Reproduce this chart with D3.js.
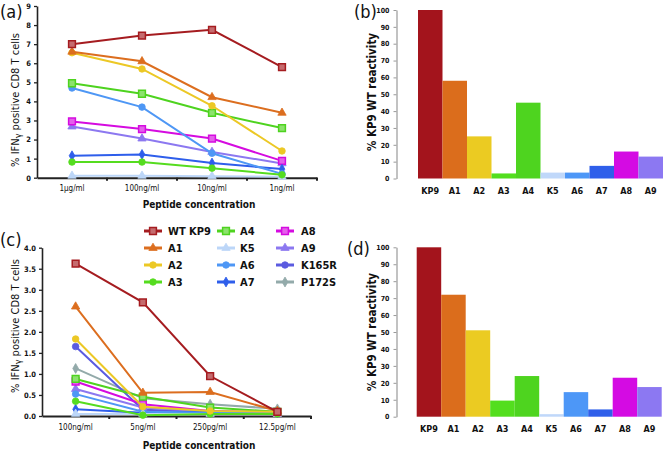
<!DOCTYPE html>
<html><head><meta charset="utf-8">
<script src="https://cdn.jsdelivr.net/npm/d3@7"></script>
<style>
html,body{margin:0;padding:0;background:#fff;}
svg{display:block;}
text{font-family:"DejaVu Sans Condensed","DejaVu Sans",sans-serif;fill:#111;}
</style></head>
<body>
<svg id="chart" width="664" height="451"></svg>
<script>
// ---- data ----
const concA = ["1\u00b5g/ml","100ng/ml","10ng/ml","1ng/ml"];
const concC = ["100ng/ml","5ng/ml","250pg/ml","12.5pg/ml"];
const seriesNames = ["WT KP9","A1","A2","A3","A4","K5","A6","A7","A8","A9","K165R","P172S"];
const seriesColors = ["#A51C20","#DC6E1F","#ECC825","#55DC1F","#4ED31F","#BCD6F8","#4E97F5","#2E5EEB","#D50BE0","#8C78F0","#5B5BE0","#93AAAA"];
const seriesShapes = ["square","triangle","circle","circle","square","triangle","circle","diamond","square","triangle","circle","diamond"];
// panel (a) values (% IFNg+ CD8 T cells)
const aWT   = [7.0, 7.45, 7.75, 5.8];
const aA1   = [6.6, 6.1, 4.22, 3.4];
const aA2   = [6.55, 5.7, 3.77, 1.4];
const aA3   = [0.82, 0.82, 0.5, 0.15];
const aA4   = [4.95, 4.4, 3.4, 2.6];
const aK5   = [0.1, 0.1, 0.08, 0.05];
const aA6   = [4.7, 3.7, 1.28, 0.2];
const aA7   = [1.15, 1.22, 0.77, 0.45];
const aA8   = [2.95, 2.55, 2.05, 0.88];
const aA9   = [2.68, 2.05, 1.35, 0.75];
// panel (c) values
const cWT    = [3.62, 2.7, 0.95, 0.1];
const cA1    = [2.6, 0.55, 0.57, 0.12];
const cA2    = [1.83, 0.22, 0.12, 0.1];
const cA3    = [0.35, 0.02, 0.05, 0.05];
const cA4    = [0.88, 0.46, 0.2, 0.1];
const cK5    = [0.05, 0.05, 0.05, 0.05];
const cA6    = [0.52, 0.1, 0.08, 0.08];
const cA7    = [0.16, 0.08, 0.1, 0.08];
const cA8    = [0.82, 0.28, 0.12, 0.08];
const cA9    = [0.64, 0.2, 0.1, 0.1];
const cK165R = [1.65, 0.15, 0.1, 0.08];
const cP172S = [1.13, 0.42, 0.28, 0.17];
// bar panels (% KP9 WT reactivity)
const barCats = ["KP9","A1","A2","A3","A4","K5","A6","A7","A8","A9"];
const barColors = ["#A3141C","#DB6D1C","#EBCB22","#53DE1E","#4ED41F","#C0D8FA","#4D97F7","#2F5FEA","#D40BE3","#8C78F2"];
const bVals = [100, 58, 25, 3, 45, 3.5, 3.5, 7.5, 16, 13];
const dVals = [100, 72, 51, 9.5, 24, 1.5, 14.5, 4.3, 23, 17.5];
const aTicks = [0,1,2,3,4,5,6,7,8,9];
const cTicks = [0,0.5,1,1.5,2,2.5,3,3.5,4];
const barTicks = [0,10,20,30,40,50,60,70,80,90,100];

const svg = d3.select("#chart");

function symbolFor(shape){
  return {square:d3.symbolSquare, triangle:d3.symbolTriangle, circle:d3.symbolCircle, diamond:d3.symbolDiamond}[shape];
}
function symSize(shape){ return {square:46, triangle:30, circle:34, diamond:28}[shape]; }
function drawMarker(g, x, y, i){
  const c = seriesColors[i], sh = seriesShapes[i];
  const fill = sh==="square" ? d3.interpolateRgb(c,"#fff")(0.35) : c;
  g.append("path").attr("transform",`translate(${x},${y})`)
    .attr("d", d3.symbol().type(symbolFor(sh)).size(symSize(sh))())
    .attr("fill", fill).attr("stroke", c).attr("stroke-width", sh==="square"?1.5:0.8);
}

function linePanel(cfg){
  const x = d3.scaleBand().domain(cfg.cats).range(cfg.xr).padding(0);
  const y = d3.scaleLinear().domain(cfg.yd).range(cfg.yr);
  const g = svg.append("g");
  const ya = g.append("g").attr("transform",`translate(${cfg.xr[0]},0)`)
    .call(d3.axisLeft(y).tickValues(cfg.ticks).tickFormat(cfg.fmt).tickSize(3).tickSizeOuter(0).tickPadding(3));
  ya.select(".domain").attr("stroke","#222").attr("stroke-width",1.6);
  ya.selectAll(".tick line").attr("stroke","#222").attr("stroke-width",1.3);
  ya.selectAll(".tick text").attr("font-size",7.5).attr("font-weight","bold").attr("fill","#222");
  const xa = g.append("g").attr("transform",`translate(0,${y(0)})`)
    .call(d3.axisBottom(x).tickSize(0).tickPadding(8));
  xa.select(".domain").attr("stroke","#222").attr("stroke-width",2);
  xa.selectAll(".tick text").attr("font-size",8).attr("fill","#222");
  g.selectAll(".bticks").data(cfg.cats).enter().append("line")
    .attr("x1",d=>x(d)+x.bandwidth()).attr("x2",d=>x(d)+x.bandwidth())
    .attr("y1",y(0)).attr("y2",y(0)+3).attr("stroke","#222").attr("stroke-width",2);
  const lg = g.append("g");
  const order = cfg.series.map((s,i)=>i).reverse();
  order.forEach(k=>{
    const s = cfg.series[k];
    const idx = seriesNames.indexOf(s.name);
    lg.append("path").datum(s.vals)
      .attr("fill","none").attr("stroke",seriesColors[idx]).attr("stroke-width",2)
      .attr("d", d3.line().x((d,j)=>x(cfg.cats[j])+x.bandwidth()/2).y(d=>y(d)));
    s.vals.forEach((v,j)=>drawMarker(lg, x(cfg.cats[j])+x.bandwidth()/2, y(v), idx));
  });
  g.append("text").attr("x",cfg.xlabX).attr("y",cfg.xlabY).attr("text-anchor","middle")
    .attr("font-size",10).attr("font-weight","bold").text("Peptide concentration");
  const yl = g.append("text").attr("transform",`translate(${cfg.ylabX},${cfg.ylabY}) rotate(-90)`)
    .attr("text-anchor","middle").attr("font-size",11);
  yl.append("tspan").text("% IFN");
  yl.append("tspan").attr("font-size",9).attr("dy",2).text("\u03b3");
  yl.append("tspan").attr("dy",-2).text(" positive CD8 T cells");
  g.append("text").attr("x",cfg.labX).attr("y",cfg.labY).attr("font-size",18).text(cfg.label);
}

function barPanel(cfg){
  const x = d3.scaleBand().domain(barCats).range(cfg.xr).padding(0);
  const y = d3.scaleLinear().domain([0,100]).range(cfg.yr);
  const g = svg.append("g");
  g.selectAll("rect").data(cfg.vals).enter().append("rect")
    .attr("x",(d,i)=>x(barCats[i])).attr("width",x.bandwidth())
    .attr("y",d=>y(d)).attr("height",d=>y(0)-y(d))
    .attr("fill",(d,i)=>barColors[i]);
  const ya = g.append("g").attr("transform",`translate(${cfg.axisX},0)`)
    .call(d3.axisLeft(y).tickValues(barTicks).tickSize(3).tickSizeOuter(0).tickPadding(4));
  ya.select(".domain").attr("stroke","#999").attr("stroke-width",1.2);
  ya.selectAll(".tick line").attr("stroke","#999");
  ya.selectAll(".tick text").attr("font-size",7).attr("font-weight","bold").attr("fill","#222");
  const xa = g.append("g").attr("transform",`translate(0,${y(0)})`)
    .call(d3.axisBottom(x).tickSize(0).tickPadding(9));
  xa.select(".domain").remove();
  xa.selectAll(".tick text").attr("font-size",9).attr("font-weight","bold").attr("fill","#111");
  g.append("text").attr("transform",`translate(${cfg.ylabX},${cfg.ylabY}) rotate(-90)`)
    .attr("text-anchor","middle").attr("font-size",11.5).attr("font-weight","bold")
    .text("% KP9 WT reactivity");
  g.append("text").attr("x",cfg.labX).attr("y",cfg.labY).attr("font-size",18).text(cfg.label);
}

linePanel({cats:concA, xr:[37,317], yd:[0,9], yr:[177.7,6], ticks:aTicks, fmt:d3.format("d"),
  series:[{name:"WT KP9",vals:aWT},{name:"A1",vals:aA1},{name:"A2",vals:aA2},{name:"A3",vals:aA3},
          {name:"A4",vals:aA4},{name:"K5",vals:aK5},{name:"A6",vals:aA6},{name:"A7",vals:aA7},
          {name:"A8",vals:aA8},{name:"A9",vals:aA9}],
  xlabX:199, xlabY:208, ylabX:19, ylabY:100, labX:0, labY:18, label:"(a)"});

linePanel({cats:concC, xr:[42,311], yd:[0,4], yr:[416,247.7], ticks:cTicks, fmt:d3.format(".1f"),
  series:[{name:"WT KP9",vals:cWT},{name:"A1",vals:cA1},{name:"A2",vals:cA2},{name:"A3",vals:cA3},
          {name:"A4",vals:cA4},{name:"K5",vals:cK5},{name:"A6",vals:cA6},{name:"A7",vals:cA7},
          {name:"A8",vals:cA8},{name:"A9",vals:cA9},{name:"K165R",vals:cK165R},{name:"P172S",vals:cP172S}],
  xlabX:199, xlabY:449, ylabX:19, ylabY:326, labX:0, labY:246, label:"(c)"});

barPanel({vals:bVals, xr:[418,663], yr:[178.5,10], axisX:396.5, ylabX:376, ylabY:92, labX:354, labY:18, label:"(b)"});
barPanel({vals:dVals, xr:[416.7,661.7], yr:[416.7,247.3], axisX:396.5, ylabX:376, ylabY:332, labX:347, labY:255, label:"(d)"});

// legend
const legCols = [{x1:144,x2:162,tx:168},{x1:217,x2:235,tx:240},{x1:276,x2:294,tx:301}];
const legRows = [231,248,265,282];
const lgd = svg.append("g");
seriesNames.forEach((n,i)=>{
  const c = legCols[Math.floor(i/4)], yy = legRows[i%4];
  lgd.append("line").attr("x1",c.x1).attr("x2",c.x2).attr("y1",yy).attr("y2",yy)
    .attr("stroke",seriesColors[i]).attr("stroke-width",3);
  drawMarker(lgd,(c.x1+c.x2)/2,yy,i);
  lgd.append("text").attr("x",c.tx).attr("y",yy+4).attr("font-size",11).attr("font-weight","bold").text(n);
});
</script>
</body></html>
